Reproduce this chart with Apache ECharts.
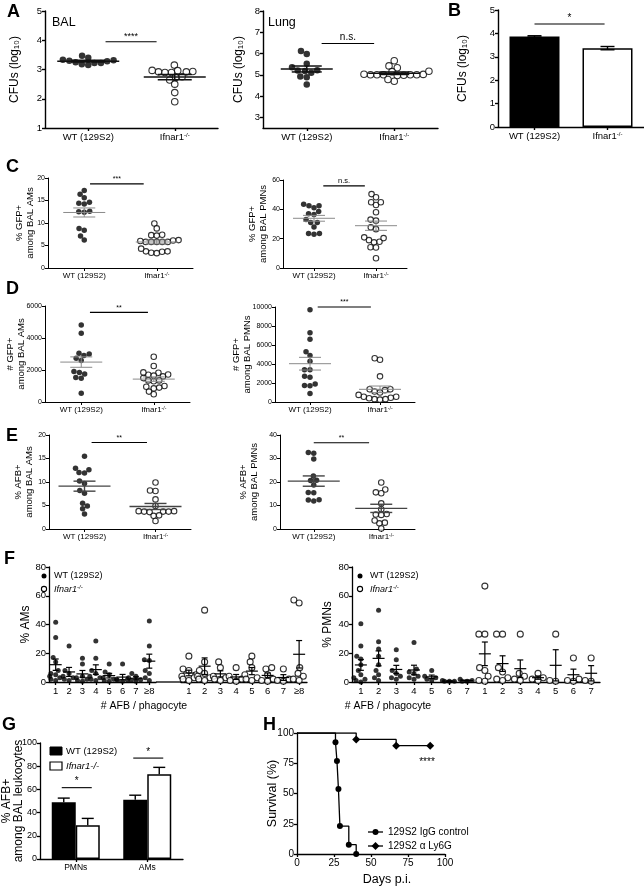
<!DOCTYPE html>
<html><head><meta charset="utf-8">
<script src="https://cdn.jsdelivr.net/npm/echarts@6/dist/echarts.min.js"></script>
<style>html,body{margin:0;padding:0;background:#fff}#main{width:644px;height:888px}</style>
</head><body><div id="main"></div>
<script>
const FF = '"Liberation Sans", Arial, Helvetica, sans-serif';

// ---------------- DATA ----------------
const groups = ['WT (129S2)', 'Ifnar1-/-'];
// A: CFUs (log10)
const cfuBalWT  = [3.32, 3.30, 3.25, 3.22, 3.47, 3.40, 3.18, 3.15, 3.22, 3.28, 3.33];
const cfuBalKO  = [3.15, 2.96, 2.92, 2.90, 2.90, 2.92, 2.93, 2.97, 2.75, 2.73, 2.64, 2.50, 2.21, 1.90];
const cfuLungWT = [6.12, 5.98, 5.52, 5.20, 5.18, 5.22, 5.35, 4.92, 4.88, 4.55, 5.10];
const cfuLungKO = [5.00, 4.98, 5.00, 5.00, 4.97, 5.00, 5.02, 5.00, 5.03, 5.66, 5.42, 5.33, 5.17, 5.15, 4.70, 4.78];
const lungTicks = [3, 4, 5, 6, 7, 8];
// B
const cfuBarMean = [3.87, 3.37];
const cfuBarSem  = [0.03, 0.07];
// C: % GFP+
const gfpAmWT  = [17.2, 15.6, 16.4, 14.4, 14.6, 14.2, 12.5, 12.6, 12.4, 8.8, 8.4, 7.1, 6.2];
const gfpAmKO  = [9.9, 8.8, 7.3, 7.2, 7.4, 6.2, 6.1, 5.8, 5.8, 5.8, 5.8, 5.8, 6.0, 3.6, 3.4, 3.3, 3.7, 3.7, 4.3];
const gfpPmnWT = [43.5, 42.5, 41.0, 42.5, 38.5, 37.0, 36.5, 33.0, 31.0, 31.0, 28.0, 23.5, 23.0, 23.5];
const gfpPmnKO = [50.4, 48.2, 44.8, 43.0, 44.8, 38.0, 32.3, 33.0, 27.7, 26.5, 20.9, 17.9, 19.0, 20.4, 17.5, 14.1, 14.0, 6.6];
// D: # GFP+
const nGfpAmWT  = [4810, 4290, 3050, 2900, 3000, 2730, 2600, 1900, 1850, 1750, 1480, 1530, 540];
const nGfpAmKO  = [2830, 2250, 1830, 1700, 1650, 1500, 1600, 1720, 1850, 1300, 1350, 1350, 850, 950, 1000, 900, 650, 480];
const nGfpPmnWT = [9700, 7300, 6600, 5300, 4900, 4300, 3400, 3400, 2700, 2600, 1900, 1700, 1750, 900];
const nGfpPmnKO = [4600, 4450, 2700, 1350, 1000, 1100, 1250, 1350, 550, 450, 300, 250, 300, 400, 550, 750];
// E: % AFB+
const afbAmWT  = [15.5, 12.9, 12.0, 11.9, 12.6, 9.7, 10.2, 8.2, 7.6, 5.5, 4.9, 4.3, 3.2];
const afbAmKO  = [9.9, 8.1, 8.2, 6.3, 4.9, 3.7, 3.7, 3.6, 3.8, 3.7, 3.8, 2.8, 2.9, 1.7];
const afbPmnWT = [32.6, 32.2, 29.8, 22.6, 20.6, 20.7, 18.7, 15.4, 15.5, 12.3, 11.9, 12.4];
const afbPmnKO = [19.8, 16.8, 15.2, 15.6, 10.9, 8.4, 6.4, 6.0, 6.2, 2.7, 2.4, 3.6, 0.2];
// F: % cells by # AFB / phagocyte
const afbCatsAM  = ['1', '2', '3', '4', '5', '6', '7', '\u22658'];
const afbCatsPMN = ['1', '2', '3', '4', '5', '6', '7'];
const amWT = [
  [41.5, 31, 17, 14, 8, 6, 5, 4, 3, 2, 1],
  [25, 8, 6, 4, 3, 2, 1],
  [12.5, 16.5, 4, 3, 2, 1, 0.5],
  [28.5, 16.5, 8, 6, 4, 3, 2, 1],
  [12.5, 7, 5, 3, 2, 1, 0.5],
  [12.5, 3, 2, 1.5, 1, 0.5],
  [6, 4, 1.5, 1, 0.5],
  [42.5, 25, 15.5, 15, 8, 6, 3, 1]
];
const amKO = [
  [18, 9, 8, 5, 4, 3, 2, 1],
  [50, 14, 8, 6, 4, 3, 2, 1],
  [14, 10, 4, 3, 2, 1],
  [10, 4, 2, 1, 0.5],
  [18, 14, 10, 5, 3, 2, 1],
  [9, 10, 5, 2, 1, 0.5],
  [9, 2, 1, 0.5],
  [57, 55, 10, 6, 4, 2, 1]
];
const pmnWT = [
  [40.5, 25, 18, 16, 12, 8, 5, 3, 2, 1, 0],
  [50, 28, 23, 18, 12, 8, 5, 3, 1],
  [22.5, 15.5, 8, 6, 4, 3, 2],
  [27.5, 9, 7, 6, 4, 3, 2],
  [8, 4, 3, 2, 1],
  [1, 0.5, 0.5, 0.5],
  [2, 1, 0.5, 0.5]
];
const pmnKO = [
  [66.7, 33.3, 33.3, 10, 8, 4, 1, 0.5],
  [33.3, 33.3, 10, 7, 3, 2, 1],
  [33.3, 6, 4, 2, 1],
  [6, 3, 2, 1],
  [33.3, 1, 0.5],
  [16.7, 2, 1, 0.5],
  [16.7, 1, 0.5]
];
// G
const gCats   = ['PMNs', 'AMs'];
const gWT     = [49, 51];
const gWTsem  = [3.5, 4];
const gKO     = [29, 73];
const gKOsem  = [6, 6];
// H: survival
const ctrlDays = [0, 26, 27, 28, 29, 35, 40];
const ctrlSurv = [100, 92.3, 76.9, 53.8, 23.1, 7.7, 0];
const ly6gDays = [0, 40, 67, 90];
const ly6gSurv = [100, 94.7, 89.5, 89.5];

// ---------------- HELPERS ----------------
const mean = a => a.reduce((s, v) => s + v, 0) / a.length;
const sem = a => { const m = mean(a); if (a.length < 2) return 0;
  const sd = Math.sqrt(a.reduce((s, v) => s + (v - m) * (v - m), 0) / (a.length - 1)); return sd / Math.sqrt(a.length); };

function swarm(vals, ppu, d, clamp) {
  const order = vals.map((v, i) => i).sort((a, b) => vals[a] - vals[b]);
  const placed = [], off = new Array(vals.length).fill(0);
  for (const i of order) {
    const y = vals[i] * ppu;
    const cands = [0];
    for (const p of placed) {
      const dy = Math.abs(y - p.y);
      if (dy < d) { const dx = Math.sqrt(d * d - dy * dy); cands.push(p.x + dx, p.x - dx); }
    }
    cands.sort((a, b) => Math.abs(a) - Math.abs(b) || a - b);
    let x = cands[0];
    for (const c of cands) {
      if (placed.every(p => (c - p.x) ** 2 + (y - p.y) ** 2 >= d * d - 1e-6)) { x = c; break; }
    }
    placed.push({ x, y });
    off[i] = clamp ? Math.max(-clamp, Math.min(clamp, x)) : x;
  }
  return off;
}

const grids = [], xAxes = [], yAxes = [], series = [], graphics = [];
function addGrid(l, t, w, h) { grids.push({ left: l, top: t, width: w, height: h, containLabel: false, outerBoundsMode: 'none' }); return grids.length - 1; }

function koRich(fs, italic) {
  return { a: { fontSize: fs, fontFamily: FF, color: '#000', fontStyle: italic ? 'italic' : 'normal' },
           s: { fontSize: Math.round(fs * 0.65), fontFamily: FF, color: '#000', verticalAlign: 'top', fontStyle: italic ? 'italic' : 'normal' } };
}
function catAxis(gi, data, fs, aw, fmt) {
  xAxes.push({ gridIndex: gi, type: 'category', data, boundaryGap: true,
    axisLine: { show: true, lineStyle: { color: '#000', width: aw } },
    axisTick: { show: true, alignWithLabel: true, length: 3, lineStyle: { color: '#000', width: aw } },
    axisLabel: { interval: 0, fontSize: fs, color: '#000', fontFamily: FF, margin: 4,
      formatter: fmt || (v => v.indexOf('Ifnar1') === 0 ? '{a|Ifnar1}{s|-/-}' : v), rich: koRich(fs, false) },
    splitLine: { show: false } });
  return xAxes.length - 1;
}
function valAxis(gi, c) {
  const o = { gridIndex: gi, type: 'value', min: c.min, max: c.max,
    axisLine: { show: true, lineStyle: { color: '#000', width: c.aw || 1 } },
    axisTick: { show: true, length: 3, lineStyle: { color: '#000', width: c.aw || 1 } },
    axisLabel: { show: true, fontSize: c.tickFs, color: '#000', fontFamily: FF, margin: 3, formatter: v => String(v) },
    splitLine: { show: false },
    name: c.name, nameLocation: 'middle', nameRotate: 90, nameGap: c.nameGap, nameMoveOverlap: false,
    nameTextStyle: { fontSize: c.nameFs, color: '#000', fontFamily: FF, lineHeight: c.nameLH || c.nameFs * 1.15 } };
  if (c.interval != null) o.interval = c.interval;
  if (c.customTicks) { o.axisLabel.customValues = c.customTicks; o.axisTick.customValues = c.customTicks; }
  yAxes.push(o);
  return yAxes.length - 1;
}
function dotSeries(xi, yi, catIdx, vals, ppu, size, filled, dist, clamp) {
  const off = swarm(vals, ppu, dist, clamp);
  return { type: 'scatter', xAxisIndex: xi, yAxisIndex: yi, symbol: 'circle', symbolSize: size, silent: true, z: 3,
    itemStyle: filled ? { color: '#000' } : { color: '#fff', borderColor: '#000', borderWidth: 1.1 },
    data: vals.map((v, i) => ({ value: [catIdx, v], symbolOffset: [off[i], 0] })) };
}
function meanSem(xi, yi, gvals, base, st) {
  const data = gvals.map((g, k) => [k + base, mean(g), sem(g)]);
  return { type: 'custom', xAxisIndex: xi, yAxisIndex: yi, silent: true, z: 5, encode: { x: 0, y: 1 }, data,
    renderItem: (p, api) => {
      const x = api.value(0), m = api.value(1), s = api.value(2);
      const c = api.coord([x, m]), u = api.coord([x, m + s]), l = api.coord([x, Math.max(m - s, 0)]);
      const ls = { stroke: st.color, lineWidth: st.lw };
      return { type: 'group', children: [
        { type: 'line', shape: { x1: c[0] - st.mh, y1: c[1], x2: c[0] + st.mh, y2: c[1] }, style: ls },
        { type: 'line', shape: { x1: c[0], y1: u[1], x2: c[0], y2: l[1] }, style: ls },
        { type: 'line', shape: { x1: c[0] - st.sh, y1: u[1], x2: c[0] + st.sh, y2: u[1] }, style: ls },
        { type: 'line', shape: { x1: c[0] - st.sh, y1: l[1], x2: c[0] + st.sh, y2: l[1] }, style: ls }] };
    } };
}
function sigSeries(xi, yi, s) {
  return { type: 'custom', xAxisIndex: xi, yAxisIndex: yi, silent: true, z: 6, encode: { x: 0, y: 1 }, data: [[0, s.y]],
    renderItem: (p, api) => {
      const yv = api.value(1);
      const a = api.coord([0, yv]), b = api.coord([1, yv]);
      const xa = a[0] + s.f0 * (b[0] - a[0]), xb = a[0] + s.f1 * (b[0] - a[0]);
      return { type: 'group', children: [
        { type: 'line', shape: { x1: xa, y1: a[1], x2: xb, y2: a[1] }, style: { stroke: '#000', lineWidth: 1.1 } },
        { type: 'text', x: (xa + xb) / 2, y: a[1] - 1, style: { text: s.text, fontSize: s.fs, fontFamily: FF, fill: '#000', align: 'center', verticalAlign: 'bottom' } }] };
    } };
}
function errBars(xi, yi, means, sems, offPx, capHalf, both) {
  return { type: 'custom', xAxisIndex: xi, yAxisIndex: yi, silent: true, z: 6, encode: { x: 0, y: 1 },
    data: means.map((m, k) => [k, m, sems[k]]),
    renderItem: (p, api) => {
      const x = api.value(0), m = api.value(1), s = api.value(2);
      const c = api.coord([x, m]), u = api.coord([x, m + s]), l = api.coord([x, m - s]);
      const cx = c[0] + offPx; const ls = { stroke: '#000', lineWidth: 1.4 };
      const ch = [
        { type: 'line', shape: { x1: cx, y1: u[1], x2: cx, y2: both ? l[1] : c[1] }, style: ls },
        { type: 'line', shape: { x1: cx - capHalf, y1: u[1], x2: cx + capHalf, y2: u[1] }, style: ls }];
      if (both) ch.push({ type: 'line', shape: { x1: cx - capHalf, y1: l[1], x2: cx + capHalf, y2: l[1] }, style: ls });
      return { type: 'group', children: ch };
    } };
}
function dotPanel(c) {
  const gi = addGrid(c.left, c.top, c.width, c.height);
  const xi = catAxis(gi, groups, c.catFs, c.aw);
  const yi = valAxis(gi, c);
  const ppu = c.height / (c.max - c.min);
  [c.wt, c.ko].forEach((g, k) => series.push(dotSeries(xi, yi, k, g, ppu, c.dot, k === 0, c.dot, c.clamp)));
  series.push(meanSem(xi, yi, [c.wt, c.ko], 0, c.ms));
  series.push(sigSeries(xi, yi, c.sig));
}

// ---------------- PANELS ----------------
// A
dotPanel({ left: 45, top: 11, width: 173, height: 117, min: 1, max: 5, interval: 1, aw: 1.4, tickFs: 9.5, catFs: 9.5,
  name: 'CFUs (log\u2081\u2080)', nameFs: 12, nameGap: 23, wt: cfuBalWT, ko: cfuBalKO, dot: 6.5, clamp: 40,
  ms: { color: '#111', lw: 1.5, mh: 31, sh: 17 }, sig: { y: 3.95, text: '****', f0: 0.2, f1: 0.79, fs: 9 } });
dotPanel({ left: 263, top: 11, width: 175, height: 117, min: 2.5, max: 8, customTicks: lungTicks, aw: 1.4, tickFs: 9.5, catFs: 9.5,
  name: 'CFUs (log\u2081\u2080)', nameFs: 12, nameGap: 17, wt: cfuLungWT, ko: cfuLungKO, dot: 6.5, clamp: 40,
  ms: { color: '#111', lw: 1.5, mh: 26, sh: 15 }, sig: { y: 6.47, text: 'n.s.', f0: 0.17, f1: 0.77, fs: 10 } });
// B
(function () {
  const gi = addGrid(498, 10, 146, 117);
  const xi = catAxis(gi, groups, 9.5, 1.4);
  const yi = valAxis(gi, { min: 0, max: 5, interval: 1, aw: 1.4, tickFs: 9.5, name: 'CFUs (log\u2081\u2080)', nameFs: 12, nameGap: 28 });
  series.push({ type: 'bar', xAxisIndex: xi, yAxisIndex: yi, barWidth: 50, silent: true, z: 2,
    data: cfuBarMean.map((v, k) => ({ value: v, itemStyle: k === 0 ? { color: '#000', borderColor: '#000', borderWidth: 1.5 } : { color: '#fff', borderColor: '#000', borderWidth: 1.5 } })) });
  series.push(errBars(xi, yi, cfuBarMean, cfuBarSem, 0, 7, true));
  series.push(sigSeries(xi, yi, { y: 4.4, text: '*', f0: 0.0, f1: 0.96, fs: 10 }));
})();
// C
const smallMs = { color: '#8a8a8a', lw: 1, mh: 21, sh: 11 };
dotPanel({ left: 48, top: 178, width: 145, height: 90, min: 0, max: 20, interval: 5, aw: 1, tickFs: 7, catFs: 8,
  name: '% GFP+\namong BAL AMs', nameFs: 9.5, nameGap: 12, wt: gfpAmWT, ko: gfpAmKO, dot: 5.5, clamp: 30,
  ms: smallMs, sig: { y: 18.7, text: '***', f0: 0.08, f1: 0.82, fs: 7 } });
dotPanel({ left: 283, top: 180, width: 124, height: 88, min: 0, max: 60, interval: 20, aw: 1, tickFs: 7, catFs: 8,
  name: '% GFP+\namong BAL PMNs', nameFs: 9.5, nameGap: 14, wt: gfpPmnWT, ko: gfpPmnKO, dot: 5.5, clamp: 30,
  ms: smallMs, sig: { y: 56, text: 'n.s.', f0: 0.15, f1: 0.82, fs: 7.5 } });
// D
dotPanel({ left: 45, top: 306, width: 145, height: 96, min: 0, max: 6000, interval: 2000, aw: 1, tickFs: 7, catFs: 8,
  name: '# GFP+\namong BAL AMs', nameFs: 9.5, nameGap: 18, wt: nGfpAmWT, ko: nGfpAmKO, dot: 5.5, clamp: 30,
  ms: smallMs, sig: { y: 5600, text: '**', f0: 0.12, f1: 0.92, fs: 7 } });
dotPanel({ left: 275, top: 307, width: 140, height: 95, min: 0, max: 10000, interval: 2000, aw: 1, tickFs: 7, catFs: 8,
  name: '# GFP+\namong BAL PMNs', nameFs: 9.5, nameGap: 22, wt: nGfpPmnWT, ko: nGfpPmnKO, dot: 5.5, clamp: 30,
  ms: smallMs, sig: { y: 10000, text: '***', f0: 0.11, f1: 0.87, fs: 7 } });
// E
const eMs = { color: '#444', lw: 1.4, mh: 26, sh: 11 };
dotPanel({ left: 49, top: 435, width: 142, height: 94, min: 0, max: 20, interval: 5, aw: 1, tickFs: 7, catFs: 8,
  name: '% AFB+\namong BAL AMs', nameFs: 9.5, nameGap: 14, wt: afbAmWT, ko: afbAmKO, dot: 5.5, clamp: 30,
  ms: eMs, sig: { y: 18.4, text: '**', f0: 0.1, f1: 0.88, fs: 7 } });
dotPanel({ left: 280, top: 435, width: 135, height: 94, min: 0, max: 40, interval: 10, aw: 1, tickFs: 7, catFs: 8,
  name: '% AFB+\namong BAL PMNs', nameFs: 9.5, nameGap: 20, wt: afbPmnWT, ko: afbPmnKO, dot: 5.5, clamp: 30,
  ms: eMs, sig: { y: 36.7, text: '**', f0: 0.0, f1: 0.82, fs: 7 } });
// F left (AMs): WT group + Ifnar1 group
const fMs = { color: '#000', lw: 1.2, mh: 6, sh: 3 };
(function () {
  const ppu = 115 / 80;
  const ga = addGrid(49, 567, 107, 115);
  const xa = catAxis(ga, afbCatsAM, 9.5, 1.3);
  const ya = valAxis(ga, { min: 0, max: 80, interval: 20, aw: 1.3, tickFs: 9.5, name: '% AMs', nameFs: 12, nameGap: 16 });
  amWT.forEach((v, k) => series.push(dotSeries(xa, ya, k, v, ppu, 5, true, 5, 6)));
  series.push(meanSem(xa, ya, amWT, 0, fMs));
  const gb = addGrid(181, 567, 126, 115);
  const xb = catAxis(gb, afbCatsAM, 9.5, 1.3);
  yAxes.push({ gridIndex: gb, type: 'value', min: 0, max: 80, show: false }); const yb = yAxes.length - 1;
  amKO.forEach((v, k) => series.push(dotSeries(xb, yb, k, v, ppu, 6, false, 6, 7)));
  series.push(meanSem(xb, yb, amKO, 0, fMs));
})();
// F right (PMNs)
(function () {
  const ppu = 115 / 80;
  const cats = afbCatsPMN.map(c => 'WT|' + c).concat(afbCatsPMN.map(c => 'KO|' + c));
  const g = addGrid(352, 567, 248, 115);
  const xi = catAxis(g, cats, 9.5, 1.3, v => v.split('|')[1]);
  const yi = valAxis(g, { min: 0, max: 80, interval: 20, aw: 1.3, tickFs: 9.5, name: '% PMNs', nameFs: 12, nameGap: 17 });
  pmnWT.forEach((v, k) => series.push(dotSeries(xi, yi, k, v, ppu, 5, true, 5, 7)));
  pmnKO.forEach((v, k) => series.push(dotSeries(xi, yi, afbCatsPMN.length + k, v, ppu, 6, false, 6, 8)));
  series.push(meanSem(xi, yi, pmnWT, 0, fMs));
  series.push(meanSem(xi, yi, pmnKO, afbCatsPMN.length, fMs));
})();
// G
(function () {
  const g = addGrid(40, 743, 143, 116);
  const xi = catAxis(g, gCats, 8.5, 1.3);
  const yi = valAxis(g, { min: 0, max: 100, interval: 20, aw: 1.3, tickFs: 9, name: '% AFB+\namong BAL leukocytes', nameFs: 12, nameGap: 15, nameLH: 12 });
  series.push({ type: 'bar', xAxisIndex: xi, yAxisIndex: yi, data: gWT, barWidth: 24, barGap: '0%', silent: true, z: 2,
    itemStyle: { color: '#000', borderColor: '#000', borderWidth: 1.5 } });
  series.push({ type: 'bar', xAxisIndex: xi, yAxisIndex: yi, data: gKO, barWidth: 24, barGap: '0%', silent: true, z: 2,
    itemStyle: { color: '#fff', borderColor: '#000', borderWidth: 1.5 } });
  series.push(errBars(xi, yi, gWT, gWTsem, -12, 6, false));
  series.push(errBars(xi, yi, gKO, gKOsem, 12, 6, false));
  series.push({ type: 'custom', xAxisIndex: xi, yAxisIndex: yi, silent: true, z: 6, encode: { x: 0, y: 1 },
    data: [[0, 61.5], [1, 87]],
    renderItem: (p, api) => {
      const c = api.coord([api.value(0), api.value(1)]);
      return { type: 'group', children: [
        { type: 'line', shape: { x1: c[0] - 14, y1: c[1], x2: c[0] + 16, y2: c[1] }, style: { stroke: '#000', lineWidth: 1.1 } },
        { type: 'text', x: c[0] + 1, y: c[1] - 1, style: { text: '*', fontSize: 10, fontFamily: FF, fill: '#000', align: 'center', verticalAlign: 'bottom' } }] };
    } });
})();
// H
(function () {
  const g = addGrid(297, 733, 148, 121);
  xAxes.push({ gridIndex: g, type: 'value', min: 0, max: 100, interval: 25,
    axisLine: { show: true, lineStyle: { color: '#000', width: 1.3 } },
    axisTick: { show: true, length: 3, lineStyle: { color: '#000', width: 1.3 } },
    axisLabel: { fontSize: 10, color: '#000', fontFamily: FF, margin: 4 }, splitLine: { show: false } });
  const xi = xAxes.length - 1;
  const yi = valAxis(g, { min: 0, max: 100, interval: 25, aw: 1.3, tickFs: 10, name: 'Survival (%)', nameFs: 12.5, nameGap: 17 });
  series.push({ type: 'line', xAxisIndex: xi, yAxisIndex: yi, step: 'end', silent: true, z: 4, symbolSize: 6,
    lineStyle: { color: '#000', width: 1.3 }, itemStyle: { color: '#000' }, showAllSymbol: true,
    data: ctrlDays.map((d, i) => ({ value: [d, ctrlSurv[i]], symbol: i === 0 ? 'none' : 'circle' })) });
  series.push({ type: 'line', xAxisIndex: xi, yAxisIndex: yi, step: 'end', silent: true, z: 4, symbolSize: 8,
    lineStyle: { color: '#000', width: 1.3 }, itemStyle: { color: '#000' }, showAllSymbol: true,
    data: ly6gDays.map((d, i) => ({ value: [d, ly6gSurv[i]], symbol: i === 0 ? 'none' : 'diamond' })) });
})();

// ---------------- TEXT / LEGENDS ----------------
function txt(x, y, text, fs, extra) {
  graphics.push({ type: 'text', x, y, silent: true, style: Object.assign({ text, fontSize: fs, fontFamily: FF, fill: '#000' }, extra || {}) });
}
const L = { fontWeight: 'bold', align: 'left', verticalAlign: 'top' };
txt(7, 3, 'A', 18, L); txt(448, 2, 'B', 18, L); txt(6, 158, 'C', 18, L); txt(6, 280, 'D', 18, L);
txt(6, 427, 'E', 18, L); txt(4, 550, 'F', 18, L); txt(2, 716, 'G', 18, L); txt(263, 716, 'H', 18, L);
txt(52, 16, 'BAL', 12.5, { verticalAlign: 'top' });
txt(268, 16, 'Lung', 12.5, { verticalAlign: 'top' });
// F legends
[44, 360].forEach(sx => {
  graphics.push({ type: 'circle', silent: true, shape: { cx: sx, cy: 576, r: 2.5 }, style: { fill: '#000' } });
  graphics.push({ type: 'circle', silent: true, shape: { cx: sx, cy: 589, r: 2.6 }, style: { fill: '#fff', stroke: '#000', lineWidth: 1.1 } });
  txt(sx + 10, 576, 'WT (129S2)', 9, { verticalAlign: 'middle' });
  txt(sx + 10, 589, '{a|Ifnar1}{s|-/-}', 9, { verticalAlign: 'middle', rich: koRich(9, true) });
});
// F axis titles + gap in left axis line
graphics.push({ type: 'line', silent: true, shape: { x1: 156, y1: 682, x2: 181, y2: 682 }, style: { stroke: '#000', lineWidth: 1.3 } });
txt(144, 706, '# AFB / phagocyte', 10.5, { align: 'center', verticalAlign: 'middle' });
txt(388, 706, '# AFB / phagocyte', 10.5, { align: 'center', verticalAlign: 'middle' });
// G legend
graphics.push({ type: 'rect', silent: true, shape: { x: 50, y: 747, width: 12, height: 8 }, style: { fill: '#000', stroke: '#000', lineWidth: 1 } });
graphics.push({ type: 'rect', silent: true, shape: { x: 50, y: 762, width: 12, height: 8 }, style: { fill: '#fff', stroke: '#000', lineWidth: 1.2 } });
txt(66, 751, 'WT (129S2)', 9.5, { verticalAlign: 'middle' });
txt(66, 766, 'Ifnar1-/-', 9.5, { verticalAlign: 'middle', fontStyle: 'italic' });
// H legend & annotations
graphics.push({ type: 'line', silent: true, shape: { x1: 368, y1: 832, x2: 383, y2: 832 }, style: { stroke: '#000', lineWidth: 1.3 } });
graphics.push({ type: 'circle', silent: true, shape: { cx: 375.5, cy: 832, r: 3 }, style: { fill: '#000' } });
graphics.push({ type: 'line', silent: true, shape: { x1: 368, y1: 846, x2: 383, y2: 846 }, style: { stroke: '#000', lineWidth: 1.3 } });
graphics.push({ type: 'polygon', silent: true, shape: { points: [[375.5, 842], [379.5, 846], [375.5, 850], [371.5, 846]] }, style: { fill: '#000' } });
txt(388, 832, '129S2 IgG control', 10, { verticalAlign: 'middle' });
txt(388, 846, '129S2 \u03b1 Ly6G', 10, { verticalAlign: 'middle' });
txt(427, 762, '****', 10, { align: 'center', verticalAlign: 'middle' });
txt(387, 880, 'Days p.i.', 12.5, { align: 'center', verticalAlign: 'middle' });

// ---------------- RENDER ----------------
const chart = echarts.init(document.getElementById('main'), null, { renderer: 'canvas', width: 644, height: 888 });
chart.setOption({ animation: false, backgroundColor: '#fff', textStyle: { fontFamily: FF },
  grid: grids, xAxis: xAxes, yAxis: yAxes, series, graphic: graphics });
</script></body></html>
